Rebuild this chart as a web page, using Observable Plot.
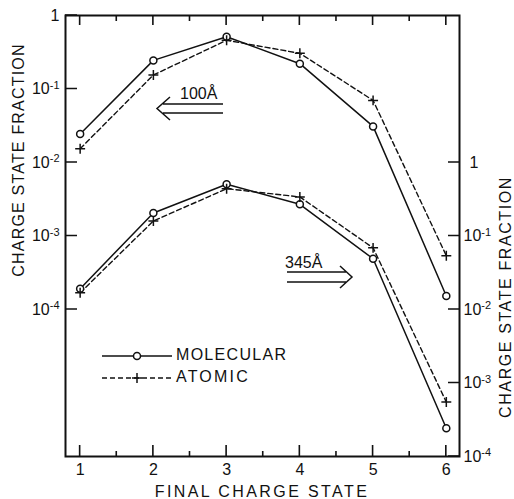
<!DOCTYPE html>
<html><head><meta charset="utf-8">
<script src="https://cdn.jsdelivr.net/npm/d3@7"></script>
<script src="https://cdn.jsdelivr.net/npm/@observablehq/plot@0.6"></script>
<style>body{margin:0;background:#fff}</style>
</head><body><div id="chart"></div>
<script>
// Final charge states
const chargeStates = [1, 2, 3, 4, 5, 6];
const minorStates = [1.5, 2.5, 3.5, 4.5, 5.5];
// 100 Å target (read on the left axis)
const mol100 = [0.0244, 0.245, 0.515, 0.221, 0.031, 1.53e-4];
const atom100 = [0.0154, 0.155, 0.46, 0.306, 0.070, 5.4e-4];
// 345 Å target (read on the right axis)
const mol345 = [0.0192, 0.206, 0.505, 0.27, 0.049, 2.42e-4];
const atom345 = [0.0169, 0.16, 0.44, 0.34, 0.069, 5.5e-4];
// Tick values
const leftTicks = [1, 1e-1, 1e-2, 1e-3, 1e-4];
const rightTicks = [1, 1e-1, 1e-2, 1e-3, 1e-4];
const rightFactor = 100; // right-axis value = left-axis value x 100
const seriesNames = ["MOLECULAR", "ATOMIC"];
const axisTitle = "CHARGE STATE FRACTION";
const xTitle = "FINAL CHARGE STATE";

function rows(vals, series, foil, factor) {
  return chargeStates.map((q, i) => ({q, v: vals[i], y: vals[i] / factor, series, foil}));
}
const molRows = [...rows(mol100, "MOLECULAR", "100", 1), ...rows(mol345, "MOLECULAR", "345", rightFactor)];
const atomRows = [...rows(atom100, "ATOMIC", "100", 1), ...rows(atom345, "ATOMIC", "345", rightFactor)];

const fmt = d => d === 1 ? "1" : "10" + Math.round(Math.log10(d));
const font = "'Liberation Sans', Arial, sans-serif";
const rightVals = rightTicks.map(t => t / rightFactor);

const plot = Plot.plot({
  width: 514, height: 499,
  marginLeft: 65, marginRight: 55, marginTop: 15, marginBottom: 43,
  style: {fontFamily: font, fontSize: "15px", color: "#111", background: "#fff"},
  x: {domain: [0.8, 6.18]},
  y: {type: "log", domain: [1e-6, 1]},
  marks: [
    Plot.frame({stroke: "#111", strokeWidth: 2}),
    Plot.axisX({anchor: "bottom", ticks: chargeStates, tickSize: 0, tickPadding: 7, tickFormat: d => String(d), fontSize: 16, label: null}),
    Plot.axisY({anchor: "left", ticks: leftTicks, tickSize: 0, tickPadding: 6, tickFormat: fmt, fontSize: 16, label: null}),
    Plot.axisY({anchor: "right", ticks: rightVals, tickSize: 0, tickPadding: 4, tickFormat: d => fmt(d * rightFactor), fontSize: 16, label: null}),
    Plot.line(molRows, {x: "q", y: "y", z: "foil", stroke: "#111", strokeWidth: 1.5}),
    Plot.line(atomRows, {x: "q", y: "y", z: "foil", stroke: "#111", strokeWidth: 1.4, strokeDasharray: "5,3"}),
    Plot.dot(molRows, {x: "q", y: "y", symbol: "circle", r: 3.5, fill: "#fff", stroke: "#111", strokeWidth: 1.5}),
    Plot.dot(atomRows, {x: "q", y: "y", symbol: "plus", r: 3.3, stroke: "#111", strokeWidth: 1.5})
  ]
});

// Superscript exponents on tick labels; nudge a bare "1" on the right axis
d3.select(plot).selectAll('g[aria-label="y-axis tick label"] text').each(function() {
  const t = this.textContent;
  const m = /^10(-\d+)$/.exec(t);
  const sel = d3.select(this);
  if (m) {
    sel.text(null);
    sel.append("tspan").text("10");
    sel.append("tspan").attr("dy", "-0.5em").attr("font-size", 11).text(m[1]);
  } else if (t === "1" && this.parentNode.getAttribute("text-anchor") === "start") {
    sel.attr("dx", 6);
  }
});

const svg = d3.select(plot);
// Inward tick marks, placed through the plot's own scales
const sx = plot.scale("x"), sy = plot.scale("y");
const [x0, x1] = sx.range, [y0, y1] = sy.range; // y0 bottom, y1 top
const tk = svg.append("g").attr("stroke", "#111").attr("stroke-width", 1.6).attr("fill", "none");
const tickPath = [];
chargeStates.forEach(q => { const x = sx.apply(q); tickPath.push(`M${x},${y0}v-11`, `M${x},${y1}v10`); });
minorStates.forEach(q => { const x = sx.apply(q); tickPath.push(`M${x},${y0}v-5`, `M${x},${y1}v6`); });
leftTicks.forEach(v => { const y = sy.apply(v); tickPath.push(`M${x0},${y}h12`); });
rightVals.forEach(v => { const y = sy.apply(v); tickPath.push(`M${x1},${y}h-11`); });
tk.append("path").attr("d", tickPath.join(""));

const g = svg.append("g").attr("font-family", font).attr("fill", "#111").attr("text-anchor", "start");
// Axis titles
g.append("text").attr("transform", "translate(20,160) rotate(-90)").attr("text-anchor", "middle")
  .attr("dominant-baseline", "middle").attr("font-size", 16).attr("letter-spacing", 1.2).text(axisTitle);
g.append("text").attr("transform", "translate(507,297) rotate(-90)").attr("text-anchor", "middle")
  .attr("dominant-baseline", "middle").attr("font-size", 16).attr("letter-spacing", 1.6).text(axisTitle);
g.append("text").attr("x", 262).attr("y", 497).attr("text-anchor", "middle")
  .attr("font-size", 16).attr("letter-spacing", 2.4).text(xTitle);

// Legend
const lg = svg.append("g").attr("stroke", "#111").attr("fill", "none");
lg.append("line").attr("x1", 102).attr("x2", 172).attr("y1", 356).attr("y2", 356).attr("stroke-width", 1.5);
lg.append("circle").attr("cx", 137).attr("cy", 356).attr("r", 3.5).attr("fill", "#fff").attr("stroke-width", 1.5);
lg.append("line").attr("x1", 102).attr("x2", 172).attr("y1", 378).attr("y2", 378).attr("stroke-width", 1.4).attr("stroke-dasharray", "5,3");
lg.append("path").attr("d", "M132,378H142M137,373V383").attr("stroke-width", 1.5);
g.append("text").attr("x", 176).attr("y", 356).attr("dominant-baseline", "middle").attr("font-size", 16).attr("letter-spacing", 1.3).text(seriesNames[0]);
g.append("text").attr("x", 176).attr("y", 378).attr("dominant-baseline", "middle").attr("font-size", 16).attr("letter-spacing", 2.2).text(seriesNames[1]);

// Foil thickness annotations
g.append("text").attr("x", 180).attr("y", 99).attr("font-size", 16).text("100Å");
const a1 = svg.append("g").attr("stroke", "#111").attr("fill", "none").attr("stroke-width", 1.5);
a1.append("path").attr("d", "M163,104H223M163,113H223M170,97L157,108.5L170,120");
g.append("text").attr("x", 285).attr("y", 268).attr("font-size", 16).text("345Å");
a1.append("path").attr("d", "M287,272H346M287,282H346M340,266L352,277L340,288");

document.getElementById("chart").appendChild(plot);
</script>
</body></html>
